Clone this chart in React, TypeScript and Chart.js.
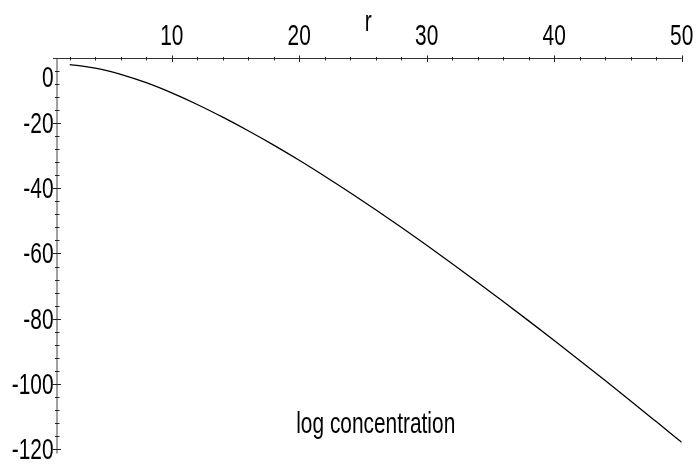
import React, { useEffect, useRef } from "react";
import { Chart, registerables } from "chart.js";

Chart.register(...registerables);

// Data
const rValues = [2, 3, 4, 5, 6, 8, 10, 12, 14, 16, 18, 20, 22, 24, 26, 28, 30, 32, 34, 36, 38, 40, 42, 44, 46, 48, 50];
const logConcentration = [-1.9, -2.35, -3.0, -3.85, -4.89, -7.46, -10.59, -14.15, -18.06, -22.24, -26.66, -31.33, -36.23, -41.31, -46.55, -51.94, -57.47, -63.13, -68.9, -74.77, -80.73, -86.77, -92.89, -99.09, -105.37, -111.72, -118.1];

const xMajorTicks = [10, 20, 30, 40, 50];
const xMinorTicks = [2, 4, 6, 8, 12, 14, 16, 18, 22, 24, 26, 28, 32, 34, 36, 38, 42, 44, 46, 48];
const yMajorTicks = [0, -20, -40, -60, -80, -100, -120];
const yMinorTicks = [-4, -8, -12, -16, -24, -28, -32, -36, -44, -48, -52, -56, -64, -68, -72, -76, -84, -88, -92, -96, -104, -108, -112, -116, -120];

const xAxisTitle = "r";
const plotTitle = "log concentration";

const FONT_SIZE = 29;
const SQUEEZE = 0.72;

function drawText(ctx: CanvasRenderingContext2D, text: string, x: number, y: number, align: CanvasTextAlign) {
  ctx.save();
  ctx.translate(x, y);
  ctx.scale(SQUEEZE, 1);
  ctx.font = `${FONT_SIZE}px "Liberation Sans", Arial, sans-serif`;
  ctx.fillStyle = "#000";
  ctx.textAlign = align;
  ctx.textBaseline = "alphabetic";
  ctx.fillText(text, 0, 0);
  ctx.restore();
}

const maplePlot = {
  id: "mapleAxes",
  beforeDatasetsDraw(chart: any) {
    const ctx: CanvasRenderingContext2D = chart.ctx;
    const xs = chart.scales.x;
    const ys = chart.scales.y;
    const y0 = ys.getPixelForValue(0);
    const x0 = xs.getPixelForValue(xs.min);
    const xEnd = xs.getPixelForValue(xs.max);
    const yBottom = ys.getPixelForValue(ys.min);

    ctx.save();
    // y axis (vertical)
    ctx.strokeStyle = "#8a8a8a";
    ctx.lineWidth = 1.6;
    ctx.beginPath();
    ctx.moveTo(x0, y0);
    ctx.lineTo(x0, yBottom);
    ctx.stroke();

    // x axis (horizontal)
    ctx.strokeStyle = "#333";
    ctx.lineWidth = 1.2;
    ctx.beginPath();
    ctx.moveTo(x0 - 4, y0);
    ctx.lineTo(xEnd, y0);
    ctx.stroke();

    // x ticks
    ctx.strokeStyle = "#222";
    ctx.lineWidth = 1;
    for (const t of xMajorTicks) {
      const px = Math.round(xs.getPixelForValue(t)) + 0.5;
      ctx.beginPath();
      ctx.moveTo(px, y0 - 3);
      ctx.lineTo(px, y0 + 3.5);
      ctx.stroke();
    }
    for (const t of xMinorTicks) {
      const px = Math.round(xs.getPixelForValue(t)) + 0.5;
      ctx.beginPath();
      ctx.moveTo(px, y0 - 1.5);
      ctx.lineTo(px, y0 + 2);
      ctx.stroke();
    }
    // y ticks
    for (const t of yMajorTicks) {
      if (t === 0) continue;
      const py = Math.round(ys.getPixelForValue(t)) + 0.5;
      ctx.beginPath();
      ctx.moveTo(x0 - 4, py);
      ctx.lineTo(x0 + 4, py);
      ctx.stroke();
    }
    for (const t of yMinorTicks) {
      const py = Math.round(ys.getPixelForValue(t)) + 0.5;
      ctx.beginPath();
      ctx.moveTo(x0 - 2, py);
      ctx.lineTo(x0 + 2.5, py);
      ctx.stroke();
    }
    ctx.restore();

    // x labels above axis
    for (const t of xMajorTicks) {
      drawText(ctx, String(t), xs.getPixelForValue(t), y0 - 13.5, "center");
    }
    // y labels left of axis
    for (const t of yMajorTicks) {
      const py = ys.getPixelForValue(t);
      const baseline = t === 0 ? py + 29 : py + 10;
      drawText(ctx, String(t), x0 - 3.5, baseline, "right");
    }
    // axis title r
    drawText(ctx, xAxisTitle, xs.getPixelForValue((xs.min + xs.max) / 2) - 1, y0 - 27, "center");
    // plot title at bottom
    drawText(ctx, plotTitle, xs.getPixelForValue(26), yBottom - 20.5, "center");
  },
};

export default function App() {
  const canvasRef = useRef<HTMLCanvasElement | null>(null);

  useEffect(() => {
    if (!canvasRef.current) return;
    const chart = new Chart(canvasRef.current, {
      type: "line",
      data: {
        datasets: [
          {
            data: rValues.map((r, i) => ({ x: r, y: logConcentration[i] })),
            borderColor: "#000",
            borderWidth: 1.3,
            pointRadius: 0,
            cubicInterpolationMode: "monotone",
            fill: false,
          },
        ],
      },
      options: {
        responsive: false,
        animation: false,
        layout: { padding: { left: 57, right: 18.3, top: 57.5, bottom: 11.6 } },
        plugins: { legend: { display: false }, tooltip: { enabled: false }, title: { display: false } },
        scales: {
          x: { type: "linear", min: 1, max: 50, display: false },
          y: { type: "linear", min: -121.5, max: 0.3, display: false },
        },
      },
      plugins: [maplePlot],
    });
    return () => chart.destroy();
  }, []);

  return (
    <div style={{ position: "absolute", left: 0, top: 0, width: 700, height: 465, background: "#fff" }}>
      <canvas ref={canvasRef} width={700} height={465} />
    </div>
  );
}
